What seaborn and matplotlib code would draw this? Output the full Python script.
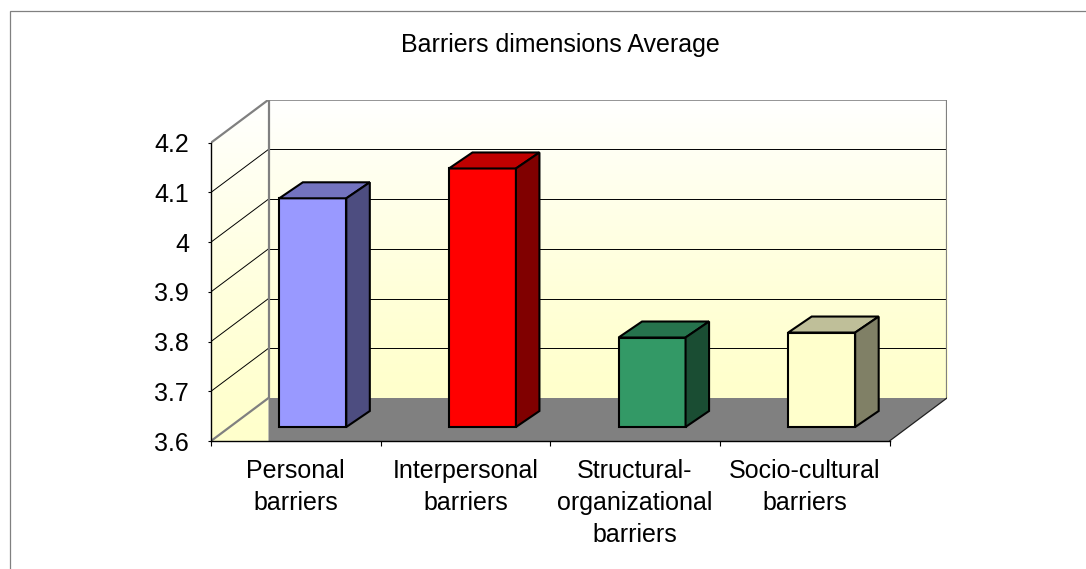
import numpy as np
import pandas as pd
import matplotlib
matplotlib.use("Agg")
import matplotlib.pyplot as plt
import seaborn as sns
from matplotlib.patches import Polygon, Rectangle
from matplotlib.colors import LinearSegmentedColormap, to_rgb

# data
categories = ["Personal\nbarriers", "Interpersonal\nbarriers",
              "Structural-\norganizational\nbarriers", "Socio-cultural\nbarriers"]
averages = [4.06, 4.12, 3.78, 3.79]
bar_colors = ["#9999FF", "#FF0000", "#339966", "#FFFFCC"]
y_ticks = [3.6, 3.7, 3.8, 3.9, 4.0, 4.1, 4.2]
title = "Barriers dimensions Average"

sns.set_style("white")
plt.rcParams["font.family"] = ["Liberation Sans", "DejaVu Sans"]
plt.rcParams["text.color"] = "black"
plt.rcParams["xtick.color"] = "black"
plt.rcParams["ytick.color"] = "black"
FS = 18

W, H = 1086, 569
fig = plt.figure(figsize=(W / 100, H / 100), dpi=100)
fig.patch.set_facecolor("white")

# front plane of the 3d box, in pixels from top-left
FX0, FX1 = 211, 889.5
FY0, FY1 = 441, 142.7
DEPTH = (57.5, 43)      # wall depth offset
BAR_OFF = (17, 14)      # front face of bars sits this far back
BAR_DEPTH = (23.5, 16)  # bar thickness

ymin, ymax = y_ticks[0], y_ticks[-1]
n = len(categories)
ppx = (FX1 - FX0) / n
ppy = (FY0 - FY1) / (ymax - ymin)
ax = fig.add_axes([FX0 / W, 1 - FY0 / H, (FX1 + DEPTH[0] - FX0) / W,
                   (FY0 - FY1 + DEPTH[1]) / H])

dx, dy = DEPTH[0] / ppx, DEPTH[1] / ppy
bdx, bdy = BAR_DEPTH[0] / ppx, BAR_DEPTH[1] / ppy
ox, oy = BAR_OFF[0] / ppx, BAR_OFF[1] / ppy
xl, xr = -0.5, n - 0.5

df = pd.DataFrame({"dimension": categories, "average": averages})
sns.barplot(data=df, x="dimension", y="average", hue="dimension",
            palette=bar_colors, saturation=1, width=67 / ppx, edgecolor="black",
            linewidth=1.5, legend=False, ax=ax, zorder=3)
bars = list(ax.patches)

# push the front faces back into the box and extrude them
for p, c in zip(bars, bar_colors):
    top = p.get_y() + p.get_height()
    p.set_x(p.get_x() + ox)
    p.set_y(ymin + oy)
    p.set_height(top - ymin)
    p.set_joinstyle("miter")
    x0, x1 = p.get_x(), p.get_x() + p.get_width()
    y0, y1 = p.get_y(), p.get_y() + p.get_height()
    rgb = np.array(to_rgb(c))
    ax.add_patch(Polygon([(x0, y1), (x1, y1), (x1 + bdx, y1 + bdy), (x0 + bdx, y1 + bdy)],
                         closed=True, facecolor=rgb * 0.75, edgecolor="black",
                         lw=1.5, joinstyle="miter", zorder=3))
    ax.add_patch(Polygon([(x1, y0), (x1, y1), (x1 + bdx, y1 + bdy), (x1 + bdx, y0 + bdy)],
                         closed=True, facecolor=rgb * 0.5, edgecolor="black",
                         lw=1.5, joinstyle="miter", zorder=3))

# walls with a white -> pale yellow gradient
wall_cmap = LinearSegmentedColormap.from_list("wall", ["#FFFFCC", "#FFFFFF"])
grad = np.linspace(0, 1, 256).reshape(-1, 1) ** 1.3

ax.imshow(grad, extent=[xl + dx, xr + dx, ymin + dy, ymax + dy], origin="lower",
          aspect="auto", cmap=wall_cmap, zorder=0.5)
left_wall = Polygon([(xl, ymin), (xl, ymax), (xl + dx, ymax + dy), (xl + dx, ymin)],
                    closed=True, fill=False, lw=0, zorder=0.4)
ax.add_patch(left_wall)
im = ax.imshow(grad, extent=[xl, xl + dx, ymin, ymax + dy], origin="lower",
               aspect="auto", cmap=wall_cmap, zorder=0.5)
im.set_clip_path(left_wall)

# gridlines on both walls
for v in y_ticks[1:-1]:
    ax.plot([xl, xl + dx], [v, v + dy], color="black", lw=0.7, zorder=1)
    ax.plot([xl + dx, xr + dx], [v + dy, v + dy], color="black", lw=0.7, zorder=1)

# wall borders
wall_edge = dict(color="#808080", lw=1.6, zorder=1.5, solid_capstyle="butt")
ax.plot([xl, xl + dx, xr + dx, xr + dx], [ymax, ymax + dy, ymax + dy, ymin + dy], **wall_edge)
ax.plot([xl + dx, xl + dx], [ymin + dy, ymax + dy], **wall_edge)
ax.plot([xl, xl + dx], [ymin, ymin + dy], **wall_edge)

# floor
ax.add_patch(Polygon([(xl + dx, ymin), (xr, ymin), (xr + dx, ymin + dy), (xl + dx, ymin + dy)],
                     closed=True, facecolor="#808080", edgecolor="none", zorder=2))
ax.plot([xr, xr + dx], [ymin, ymin + dy], color="#202020", lw=0.9, zorder=2.1)

ax.set_xlim(xl, xr + dx)
ax.set_ylim(ymin, ymax + dy)
ax.set_xlabel("")
ax.set_ylabel("")

for s in ["top", "right"]:
    ax.spines[s].set_visible(False)
ax.spines["left"].set_bounds(ymin, ymax)
ax.spines["bottom"].set_bounds(xl, xr)
for s in ["left", "bottom"]:
    ax.spines[s].set_color("black")
    ax.spines[s].set_linewidth(1.0)
    ax.spines[s].set_zorder(4)

ax.set_yticks(y_ticks, labels=[f"{v:g}" for v in y_ticks])
ax.set_xticks([i - 0.5 for i in range(n + 1)], labels=[""] * (n + 1))
ax.set_xticks(range(n), labels=categories, minor=True)
ax.tick_params(axis="y", left=True, length=2.2, width=0.8, color="black",
               pad=13.5, labelsize=FS, labelcolor="black")
ax.tick_params(axis="x", which="major", bottom=True, length=3.6, width=0.8,
               color="black", labelbottom=False)
ax.tick_params(axis="x", which="minor", bottom=True, length=0, pad=13,
               labelsize=FS, labelcolor="black")
for t in ax.get_xticklabels(minor=True):
    t.set_linespacing(1.42)

fig.text(560.4 / W, 1 - 52 / H, title, ha="center", va="baseline",
         fontsize=FS, color="black")

# chart area border, runs off the right and bottom edges
fig.patches.append(Rectangle((9.5 / W, -0.05), 1.1, 1 - 10.5 / H + 0.05,
                             transform=fig.transFigure, fill=False,
                             edgecolor="#808080", lw=0.9))

fig.savefig("out.png", dpi=100)
